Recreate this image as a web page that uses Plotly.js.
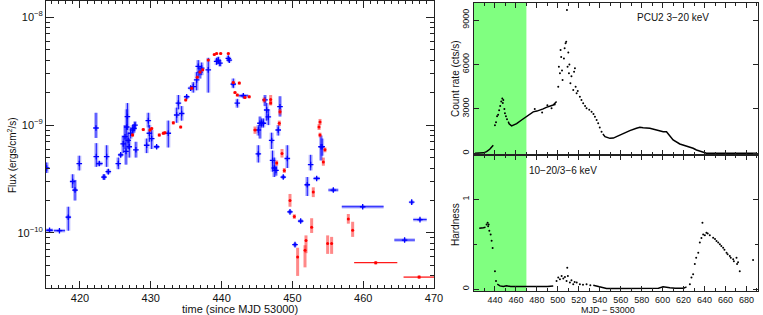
<!DOCTYPE html>
<html><head><meta charset="utf-8">
<script src="https://cdn.plot.ly/plotly-3.0.1.min.js"></script>
<style>html,body{margin:0;padding:0;background:#fff}#c{width:763px;height:315px}</style>
</head><body><div id="c"></div>
<script>
// ---- Left panel: flux light curve (time since MJD 53000) ----
const blueT = [415.3,415.7,417.1,418.35,418.97,419.3,419.9,422.26,422.3,422.73,423.39,423.77,424.0,425.41,425.75,426.1,426.36,426.5,426.6,426.7,426.8,426.96,427.16,427.43,427.62,427.77,427.9,429.42,429.65,429.8,430.13,430.83,432.47,433.66,433.9,434.36,435.07,435.63,436.0,436.48,436.7,436.95,437.19,438.12,439.3,439.53,439.77,440.95,441.09,441.65,442.22,443.07,445.19,445.19,445.42,445.66,445.9,446.13,446.37,446.6,447.07,447.2,447.44,447.68,448.0,448.25,448.71,449.28,449.66,450.37,451.17,452.1,452.58,453.43,454.04,454.2,455.78,459.93,466.85,465.85,468.02];
const blueF = [4.0e-10,1.06e-10,1.05e-10,1.4e-10,3.0e-10,2.5e-10,4.4e-10,9.4e-10,5.1e-10,4.4e-10,3.3e-10,5.1e-10,3.7e-10,4.4e-10,5.3e-10,6.7e-10,7.8e-10,5.7e-10,9.6e-10,1.2e-9,7.2e-10,6.3e-10,8.4e-10,9.0e-10,9.3e-10,1.0e-9,5.9e-10,6.5e-10,1.1e-9,8.4e-10,7.5e-10,6.3e-10,8.4e-10,1.24e-9,1.6e-9,1.28e-9,1.83e-9,2.2e-9,2.27e-9,2.62e-9,3.5e-9,3.1e-9,3.37e-9,3.25e-9,3.9e-9,4.0e-9,3.75e-9,4.15e-9,4.0e-9,2.4e-9,1.6e-9,1.87e-9,9.0e-10,5.4e-10,1.04e-9,1.04e-9,1.04e-9,1.71e-9,1.38e-9,1.19e-9,7.2e-10,4.7e-10,4.0e-10,3.8e-10,9.0e-10,1.48e-9,3.3e-10,4.9e-10,1.57e-10,7.8e-11,1.29e-10,2.8e-10,4.3e-10,3.2e-10,6.3e-10,6.3e-10,2.5e-10,1.75e-10,1.93e-10,8.6e-11,1.33e-10];
const blueLo = [3.6e-10,1.03e-10,1.02e-10,1.05e-10,2.6e-10,2.0e-10,3.8e-10,7.6e-10,4.1e-10,4.2e-10,3.1e-10,4.1e-10,3.5e-10,3.9e-10,5.1e-10,5.5e-10,6.0e-10,4.3e-10,7.0e-10,9.0e-10,6.0e-10,5.0e-10,7.5e-10,8.2e-10,8.5e-10,9.2e-10,5.0e-10,5.5e-10,9.5e-10,7.0e-10,6.0e-10,6.1e-10,6.2e-10,1.05e-9,1.4e-9,1.1e-9,1.75e-9,2.1e-9,2.0e-9,2.1e-9,2.8e-9,2.7e-9,2.9e-9,2.0e-9,3.6e-9,3.7e-9,3.5e-9,3.9e-9,3.8e-9,2.2e-9,1.45e-9,1.8e-9,8.0e-10,4.5e-10,7.5e-10,9.5e-10,9.5e-10,1.5e-9,1.1e-9,1.0e-9,6.0e-10,3.7e-10,3.3e-10,3.4e-10,8.0e-10,1.2e-9,3.2e-10,4.0e-10,1.52e-10,7.5e-11,1.25e-10,2.2e-10,3.8e-10,3.1e-10,4.7e-10,5.2e-10,2.4e-10,1.7e-10,1.85e-10,8.3e-11,1.29e-10];
const blueHi = [4.5e-10,1.09e-10,1.08e-10,1.75e-10,3.5e-10,3.1e-10,5.2e-10,1.3e-9,6.8e-10,4.6e-10,3.5e-10,6.5e-10,3.9e-10,5.0e-10,5.5e-10,8.0e-10,1.0e-9,7.0e-10,1.4e-9,1.6e-9,8.5e-10,7.5e-10,9.5e-10,1.0e-9,1.02e-9,1.08e-9,7.0e-10,7.5e-10,1.3e-9,1.0e-9,9.0e-10,6.5e-10,1.1e-9,1.45e-9,1.9e-9,1.5e-9,1.9e-9,2.3e-9,2.5e-9,3.1e-9,4.0e-9,3.5e-9,3.8e-9,4.2e-9,4.2e-9,4.3e-9,4.0e-9,4.4e-9,4.2e-9,2.7e-9,1.75e-9,1.95e-9,1.0e-9,6.5e-10,1.2e-9,1.15e-9,1.15e-9,1.9e-9,1.6e-9,1.4e-9,8.5e-10,5.8e-10,5.0e-10,4.2e-10,1.0e-9,1.85e-9,3.4e-10,6.5e-10,1.62e-10,8.1e-11,1.33e-10,3.3e-10,5.3e-10,3.3e-10,8.0e-10,7.5e-10,2.6e-10,1.8e-10,2.0e-10,8.9e-11,1.37e-10];
const blueXe = [0,0.5,0.8,0.3,0.1,0.3,0,0,0,0.47,0.3,0,0.3,0,0.3,0,0,0,0,0,0,0,0,0,0,0,0,0,0,0,0,0.3,0,0,0.15,0,0,0,0,0,0,0,0,0,0,0,0,0,0,0.3,0,0.7,0,0.2,0,0.2,0.2,0,0,0,0.15,0,0.15,0.2,0,0,0.25,0,0.25,0.2,0.3,0.3,0,0.45,0,0.15,0.7,2.95,0.1,1.45,0.95];

const redT = [427.43,428.94,429.89,430.13,431.2,431.77,432.0,433.18,434.22,434.93,435.78,436.57,436.95,437.33,438.12,438.97,439.3,439.87,440.95,441.65,441.89,442.22,443.3,442.5,443.9,444.72,446.0,446.93,446.93,447.78,448.15,448.25,448.53,448.86,449.66,450.27,450.74,451.78,451.92,452.72,452.95,453.76,453.9,453.9,454.37,454.6,454.98,455.54,457.9,458.51,461.77,467.9];
const redF = [8.1e-10,9.1e-10,9.0e-10,9.3e-10,8.1e-10,8.4e-10,8.5e-10,1.05e-9,9.6e-10,1.71e-9,2.2e-9,2.78e-9,3.1e-9,3.25e-9,4.0e-9,4.5e-9,4.6e-9,4.6e-9,4.6e-9,2.48e-9,2.0e-9,1.9e-9,1.8e-9,2.45e-9,1.83e-9,9.0e-10,1.71e-9,1.73e-9,1.6e-9,4.45e-10,1.04e-9,1.33e-9,5.45e-10,3.8e-10,2.0e-10,1.42e-10,6.0e-11,6.9e-11,8.5e-11,1.13e-10,2.4e-10,9.6e-10,1.07e-9,8.1e-10,4.55e-10,5.9e-10,8.0e-11,8.0e-11,1.35e-10,1.06e-10,5.3e-11,3.9e-11];
const redLo = [7.8e-10,8.8e-10,8.7e-10,9.0e-10,7.8e-10,8.1e-10,8.2e-10,1.01e-9,9.3e-10,1.66e-9,2.13e-9,2.7e-9,3.0e-9,3.15e-9,3.9e-9,4.38e-9,4.48e-9,4.48e-9,4.48e-9,2.4e-9,1.94e-9,1.84e-9,1.75e-9,2.37e-9,1.77e-9,8.3e-10,1.62e-9,1.55e-9,1.52e-9,4.2e-10,9.8e-10,1.25e-9,5.0e-10,3.6e-10,1.75e-10,1.35e-10,4.0e-11,4.8e-11,6.5e-11,1.0e-10,2.15e-10,9.0e-10,1.0e-9,7.7e-10,4.2e-10,5.6e-10,6.4e-11,6.4e-11,1.22e-10,9.2e-11,5.1e-11,3.75e-11];
const redHi = [8.4e-10,9.4e-10,9.3e-10,9.6e-10,8.4e-10,8.7e-10,8.8e-10,1.09e-9,9.9e-10,1.76e-9,2.27e-9,2.86e-9,3.2e-9,3.35e-9,4.1e-9,4.62e-9,4.72e-9,4.72e-9,4.72e-9,2.56e-9,2.06e-9,1.96e-9,1.85e-9,2.53e-9,1.89e-9,9.7e-10,1.8e-9,1.9e-9,1.68e-9,4.7e-10,1.1e-9,1.41e-9,6.0e-10,4.0e-10,2.3e-10,1.49e-10,7.3e-11,7.7e-11,9.5e-11,1.37e-10,2.65e-10,1.02e-9,1.14e-9,8.5e-10,5.0e-10,6.2e-10,9.5e-11,9.2e-11,1.5e-10,1.27e-10,5.5e-11,4.05e-11];
const redXe = [0,0,0,0,0,0,0,0,0,0,0,0,0,0,0,0,0,0,0,0,0,0,0,0,0,0.2,0,0,0,0,0,0,0,0,0,0,0,0,0,0,0,0,0,0,0,0,0,0,0,0,3.05,2.2];

// ---- Right top: PCU2 3-20 keV count rate (MJD - 53000) ----
const rateLineT = [[421,425,429,432,435,438.4],[452.7,453.5,455.9,458,460.7,465.4,469.6,473.4,476.5,480,483,486,489,492,495.6,498.8],[543,545,549.7,553,556,562.4,568.7,575,578.3,581.4,587.8,594.2,600.5,603.7,606.9,610,616.4,622.8,629.1,632.3,638.7,641.8,650,660,670,680,690]];
const rateLineV = [[0,10,30,110,270,540],[2140,2000,1850,1900,2000,2250,2475,2650,2800,2850,2900,3000,3100,3150,3260,3500],[1300,1125,1010,1030,1125,1350,1530,1690,1755,1730,1690,1575,1460,1460,1170,900,630,495,340,225,45,5,0,0,0,0,0]];
const rateDotT = [440,441,442,443,444,445,446,447,447.5,448,449,449.5,450.5,451.5,478,485,490,494,497,500.4,501,502,502.6,503.2,504,504.5,505.8,506.5,507.4,508,508.7,509.3,510,510.6,511,512,513,514.7,515.5,516.3,517,517.9,519,521,522.5,524.2,526,527.4,530,532.2,534,535.4,537,538.5,540,541.7];
const rateDotV = [1900,2100,2500,2600,2900,3200,3500,3700,3400,3600,3000,2700,2500,2300,3000,2750,3250,3050,3300,4500,5850,5400,6975,6500,5600,4950,6400,7100,7425,7540,9675,5850,6800,5400,6000,4725,5200,4275,5500,5740,4500,4050,4200,3825,3600,3375,3200,3040,2950,2810,2650,2475,2250,2025,1750,1460];

// ---- Right bottom: hardness 10-20 / 3-6 keV ----
const hardLineT = [[425,427,429,431],[442.2,444.8,448,451,455,457.5,462,466,470,476,483,490,495.6],[533.8,537,540,546.5,555,562.4,570,578.3,585,591,596,600.5,603,606.9,612,616.4,620,622.8]];
const hardLineV = [[0.68,0.68,0.685,0.69],[0.056,0.037,0.03,0.037,0.03,0.03,0.025,0.026,0.026,0.025,0.026,0.03,0.037],[0.045,0.035,0.026,0.007,0.007,0.007,0.008,0.007,0.008,0.007,0.01,0.026,0.02,0.015,0.012,0.011,0.012,0.026]];
const hardDotT = [432,433,433.5,434,434.6,435.9,436.8,437.8,440,441,498.8,500.4,502,503.6,505.2,506.8,508.3,509,509.6,511.5,513,514.7,516,518,521,524,527.4,531,626,627.5,629.1,630.7,632,634,635.5,637,638,638.7,640.3,641.8,643,645,648.2,650,651.4,653,654.6,656,657.7,659,661,662,664.1,665,667.3,668,670.5,671,672,673.6,686.3];
const hardDotV = [0.72,0.74,0.7,0.72,0.65,0.61,0.54,0.46,0.2,0.09,0.09,0.13,0.11,0.148,0.12,0.137,0.09,0.24,0.148,0.075,0.1,0.056,0.08,0.075,0.056,0.05,0.056,0.045,0.056,0.13,0.167,0.28,0.35,0.407,0.52,0.57,0.74,0.61,0.6,0.63,0.62,0.6,0.574,0.56,0.537,0.52,0.5,0.48,0.463,0.44,0.407,0.39,0.37,0.35,0.333,0.31,0.35,0.28,0.3,0.2,0.326];

const leftTicks = [1e-10,1e-9,1e-8];
const leftTickText = ['10<sup>−10</sup>','10<sup>−9</sup>','10<sup>−8</sup>'];
const minorLog = [];
[1e-11,1e-10,1e-9].forEach(d => { for (let k = 2; k <= 9; k++) minorLog.push(k*d); });
const minorT = [];
for (let t = 415; t <= 470; t++) if (t % 10 !== 0) minorT.push(t);

const diff = (a, b) => a.map((v, i) => v - b[i]);
const F = "Liberation Sans, Arial, sans-serif";

const traces = [];
// blue: pale wide halo of the error bars
traces.push({
  x: blueT, y: blueF, type: 'scatter', mode: 'markers', xaxis: 'x', yaxis: 'y',
  marker: {size: 1, color: 'rgba(0,0,0,0)'},
  error_y: {type: 'data', symmetric: false, array: diff(blueHi, blueF), arrayminus: diff(blueF, blueLo), color: 'rgba(110,110,255,0.5)', thickness: 4, width: 0},
  error_x: {type: 'data', array: blueXe, color: 'rgba(110,110,255,0.5)', thickness: 3.5, width: 0},
  hoverinfo: 'skip'
});
// blue: dark core of the same error bars and the points
traces.push({
  x: blueT, y: blueF, type: 'scatter', mode: 'markers', xaxis: 'x', yaxis: 'y',
  marker: {symbol: 'cross-thin', size: 4, color: '#0000ff', line: {color: '#0000ff', width: 1.3}},
  error_y: {type: 'data', symmetric: false, array: diff(blueHi, blueF), arrayminus: diff(blueF, blueLo), color: '#1010ff', thickness: 1, width: 0},
  error_x: {type: 'data', array: blueXe, color: '#1010ff', thickness: 1, width: 0},
  hoverinfo: 'skip'
});
traces.push({
  x: redT, y: redF, type: 'scatter', mode: 'markers', xaxis: 'x', yaxis: 'y',
  marker: {symbol: 'circle', size: 3, color: '#ff0000'},
  error_y: {type: 'data', symmetric: false, array: diff(redHi, redF), arrayminus: diff(redF, redLo), color: 'rgba(255,40,40,0.55)', thickness: 3, width: 0},
  error_x: {type: 'data', array: redXe, color: 'rgba(255,0,0,0.9)', thickness: 1.3, width: 0},
  hoverinfo: 'skip'
});
rateLineT.forEach((t, i) => traces.push({x: t, y: rateLineV[i], type: 'scatter', mode: 'lines', xaxis: 'x2', yaxis: 'y2', line: {color: '#000', width: 1.5}, hoverinfo: 'skip'}));
traces.push({x: rateDotT, y: rateDotV, type: 'scatter', mode: 'markers', xaxis: 'x2', yaxis: 'y2', marker: {size: 2, color: '#000'}, hoverinfo: 'skip'});
hardLineT.forEach((t, i) => traces.push({x: t, y: hardLineV[i], type: 'scatter', mode: 'lines', xaxis: 'x3', yaxis: 'y3', line: {color: '#000', width: 1.5}, hoverinfo: 'skip'}));
traces.push({x: hardDotT, y: hardDotV, type: 'scatter', mode: 'markers', xaxis: 'x3', yaxis: 'y3', marker: {size: 2, color: '#000'}, hoverinfo: 'skip'});

const axBase = {showline: true, linecolor: '#222', linewidth: 1, mirror: 'ticks', ticks: 'inside', tickcolor: '#222', showgrid: false, zeroline: false, automargin: false};
const xTicksR = [440,460,480,500,520,540,560,580,600,620,640,660,680];
const ann = (o) => Object.assign({xref: 'paper', yref: 'paper', showarrow: false, xanchor: 'center', yanchor: 'middle'}, o);

const layout = {
  width: 763, height: 315, margin: {l: 0, r: 0, t: 0, b: 0},
  paper_bgcolor: '#fff', plot_bgcolor: 'rgba(0,0,0,0)', showlegend: false,
  font: {family: F, size: 11, color: '#111'},
  xaxis: Object.assign({}, axBase, {domain: [46/763, 434/763], anchor: 'y', range: [415.2, 470], tickvals: [420,430,440,450,460,470], ticklen: 7, tickfont: {size: 11},
    minor: {tickvals: minorT, ticks: 'inside', ticklen: 3, tickcolor: '#222'}}),
  yaxis: Object.assign({}, axBase, {domain: [1 - 288/315, 1 - 1/315], anchor: 'x', type: 'log', range: [-10.51, -7.85], tickvals: leftTicks, ticktext: leftTickText, ticklen: 8, tickfont: {size: 11},
    minor: {tickvals: minorLog, ticks: 'inside', ticklen: 4, tickcolor: '#222'}}),
  xaxis2: Object.assign({}, axBase, {domain: [474/763, 758/763], anchor: 'y2', range: [420, 691], tickvals: xTicksR, showticklabels: false, ticklen: 5,
    minor: {dtick: 10, tick0: 0, ticks: 'inside', ticklen: 3, tickcolor: '#222'}}),
  yaxis2: Object.assign({}, axBase, {domain: [1 - 154.5/315, 1 - 3/315], anchor: 'x2', range: [-80, 10150], tickvals: [0,3000,6000,9000], tickangle: -90, ticklen: 5, tickfont: {size: 9}}),
  xaxis3: Object.assign({}, axBase, {domain: [474/763, 758/763], anchor: 'y3', range: [420, 691], tickvals: xTicksR, ticklen: 5, tickfont: {size: 9}, ticklabelstandoff: 0,
    minor: {dtick: 10, tick0: 0, ticks: 'inside', ticklen: 3, tickcolor: '#222'}}),
  yaxis3: Object.assign({}, axBase, {domain: [1 - 291/315, 1 - 154.5/315], anchor: 'x3', range: [-0.02, 1.5], tickvals: [0, 1], tickangle: -90, ticklen: 5, tickfont: {size: 9},
    minor: {tickvals: [0.5], ticks: 'inside', ticklen: 3, tickcolor: '#222'}}),
  shapes: [
    {type: 'rect', xref: 'x2', yref: 'y2 domain', x0: 420, x1: 470, y0: 0, y1: 1, fillcolor: '#80ff80', line: {width: 0}, layer: 'below'},
    {type: 'rect', xref: 'x3', yref: 'y3 domain', x0: 420, x1: 470, y0: 0, y1: 1, fillcolor: '#80ff80', line: {width: 0}, layer: 'below'}
  ],
  annotations: [
    ann({text: 'Flux (ergs/cm<sup>2</sup>/s)', x: 12/763, y: 1 - 155/315, textangle: -90, font: {size: 10}}),
    ann({text: 'time (since MJD 53000)', x: 240/763, y: 1 - 309/315, font: {size: 11}}),
    ann({text: 'Count rate (cts/s)', x: 455/763, y: 1 - 79/315, textangle: -90, font: {size: 10}}),
    ann({text: 'Hardness', x: 455/763, y: 1 - 225/315, textangle: -90, font: {size: 10}}),
    ann({text: 'MJD − 53000', x: 608/763, y: 1 - 309.5/315, font: {size: 9}}),
    ann({text: 'PCU2 3−20 keV', xref: 'x2', x: 610, y: 1 - 17/315, font: {size: 10}}),
    ann({text: '10−20/3−6 keV', xref: 'x3', x: 470.5, xanchor: 'left', y: 1 - 170/315, font: {size: 10}})
  ]
};

Plotly.newPlot('c', traces, layout, {displayModeBar: false, staticPlot: true});
</script>
</body></html>
